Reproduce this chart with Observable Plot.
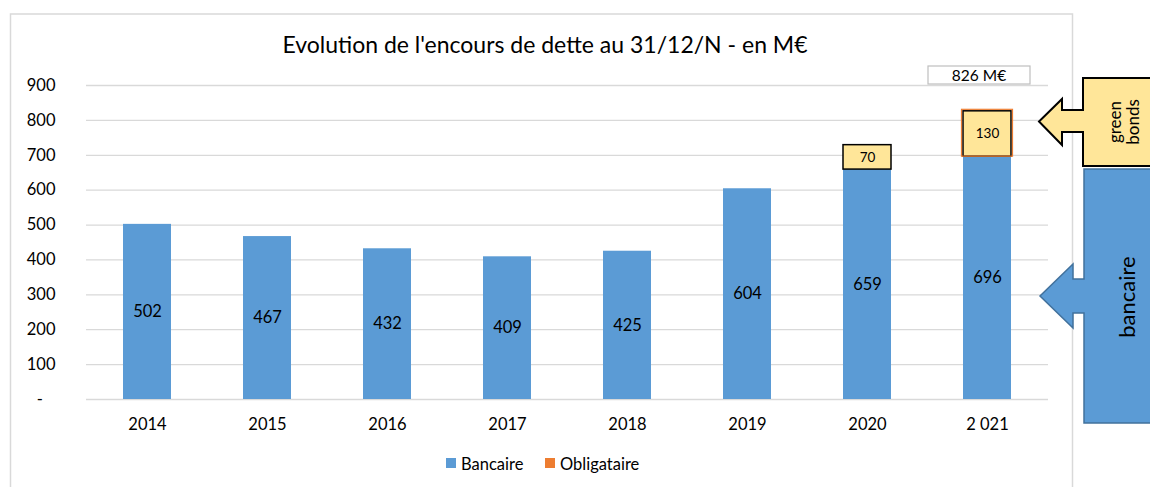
<!DOCTYPE html>
<html>
<head>
<meta charset="utf-8">
<script src="https://cdn.jsdelivr.net/npm/d3@7"></script>
<script src="https://cdn.jsdelivr.net/npm/@observablehq/plot@0.6"></script>
<style>
  html, body { margin: 0; padding: 0; background: #fff; }
  #chart { width: 1150px; height: 487px; overflow: hidden; }
</style>
</head>
<body>
<div id="chart"></div>
<script>
// ---- data ----
const years = ["2014", "2015", "2016", "2017", "2018", "2019", "2020", "2 021"];
const bancaire = [502, 467, 432, 409, 425, 604, 659, 696];
const obligataire = [0, 0, 0, 0, 0, 0, 70, 130];
const yTicks = [0, 100, 200, 300, 400, 500, 600, 700, 800, 900];
const title = "Evolution de l'encours de dette au 31/12/N - en M€";
const totalLabel = "826 M€";
const seriesNames = ["Bancaire", "Obligataire"];

// ---- tables ----
const bankRows = years.map((x, i) => ({ x, v: bancaire[i] }));
const bondRows = years
  .map((x, i) => ({ x, base: bancaire[i], v: obligataire[i] }))
  .filter(d => d.v > 0);

const BLUE = "#5B9BD5", ORANGE = "#ED7D31", YELLOW = "#FFE699", GRID = "#D9D9D9";
const FONT = "Lato, 'Open Sans', sans-serif";

const plot = Plot.plot({
  width: 1150,
  height: 487,
  marginTop: 85,
  marginBottom: 88,
  marginLeft: 86,
  marginRight: 102,
  style: { fontFamily: FONT, fontSize: "16.5px", color: "#000", background: "#fff" },
  x: { domain: years, paddingInner: 0.6, paddingOuter: 0.3, label: null },
  y: { domain: [0, 900], label: null },
  marks: [
    Plot.gridY(yTicks, { stroke: GRID, strokeOpacity: 1, strokeWidth: 1.3 }),
    Plot.axisX({ tickSize: 0, tickPadding: 19, fontSize: 16.5, label: null }),
    Plot.axisY(yTicks, { tickSize: 0, tickPadding: 31, fontSize: 16.5, label: null,
      tickFormat: d => d === 0 ? "-\u00A0\u00A0\u00A0" : String(d) }),
    Plot.barY(bankRows, { x: "x", y: "v", fill: BLUE }),
    Plot.barY(bondRows, { x: "x", y1: "base", y2: d => d.base + d.v, fill: YELLOW,
      stroke: "#000", strokeWidth: 1.5 }),
    Plot.text(bankRows, { x: "x", y: d => d.v / 2, text: d => String(d.v), fontSize: 16.5, fill: "#000" }),
    Plot.text(bondRows, { x: "x", y: d => d.base + d.v / 2, text: d => String(d.v), fontSize: 13.5, fill: "#000" })
  ]
});
document.getElementById("chart").appendChild(plot);

const svg = d3.select(plot);
const xs = plot.scale("x"), ys = plot.scale("y");

// orange outline on 2021 bond segment (outer)
const last = bondRows[bondRows.length - 1];
svg.append("rect")
  .attr("x", xs.apply(last.x) - 1.5)
  .attr("y", ys.apply(last.base + last.v) - 1.5)
  .attr("width", xs.bandwidth + 3)
  .attr("height", ys.apply(last.base) - ys.apply(last.base + last.v) + 1.5)
  .attr("fill", "none").attr("stroke", ORANGE).attr("stroke-width", 1.2);

// frame
svg.insert("rect", ":first-child")
  .attr("x", 10.5).attr("y", 14).attr("width", 1062).attr("height", 500)
  .attr("fill", "none").attr("stroke", GRID).attr("stroke-width", 1.5);

// title
svg.append("text").attr("x", 545).attr("y", 53).attr("text-anchor", "middle")
  .attr("font-family", FONT).attr("font-size", 23).attr("fill", "#000").text(title);

// total box
const tx = xs.apply(years[years.length - 1]) + xs.bandwidth / 2 - 8;
svg.append("rect").attr("x", tx - 51).attr("y", 66).attr("width", 102).attr("height", 18)
  .attr("fill", "#fff").attr("stroke", "#BFBFBF").attr("stroke-width", 1.2);
svg.append("text").attr("x", tx).attr("y", 80.5).attr("text-anchor", "middle")
  .attr("font-family", FONT).attr("font-size", 15.5).attr("fill", "#000").text(totalLabel);

// legend
const leg = [[446, BLUE, seriesNames[0]], [545, ORANGE, seriesNames[1]]];
leg.forEach(([x, c, t]) => {
  svg.append("rect").attr("x", x).attr("y", 458).attr("width", 10).attr("height", 10).attr("fill", c);
  svg.append("text").attr("x", x + 15).attr("y", 470).attr("text-anchor", "start")
    .attr("font-family", FONT).attr("font-size", 16.5).attr("fill", "#000").text(t);
});

// green bonds callout
svg.append("path")
  .attr("d", "M1083,78 L1160,78 L1160,166 L1083,166 L1083,132 L1062,132 L1062,145 L1039,121.5 L1062,99 L1062,110 L1083,110 Z")
  .attr("fill", YELLOW).attr("stroke", "#000").attr("stroke-width", 2).attr("stroke-linejoin", "miter");
const gb = svg.append("text").attr("transform", "translate(1124,122) rotate(-90)")
  .attr("text-anchor", "middle").attr("font-family", FONT).attr("font-size", 17).attr("fill", "#000");
gb.append("tspan").attr("x", 0).attr("y", -3).text("green");
gb.append("tspan").attr("x", 0).attr("y", 15).text("bonds");

// bancaire callout
svg.append("path")
  .attr("d", "M1084,169 L1160,169 L1160,423 L1084,423 L1084,313 L1073,313 L1073,328 L1040,296 L1073,264 L1073,279 L1084,279 Z")
  .attr("fill", BLUE).attr("stroke", "#41719C").attr("stroke-width", 1.5);
svg.append("text").attr("transform", "translate(1127,297) rotate(-90)")
  .attr("text-anchor", "middle").attr("dy", "0.35em").attr("font-family", FONT)
  .attr("font-size", 22).attr("fill", "#000").text("bancaire");
</script>
</body>
</html>
